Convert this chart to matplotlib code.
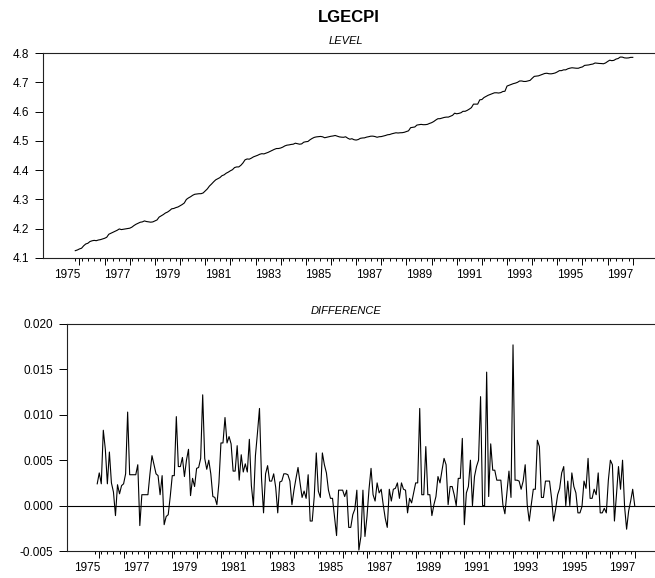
import numpy as np
import matplotlib
matplotlib.use("Agg")
import matplotlib.pyplot as plt

plt.rcParams['font.family'] = ['Liberation Sans', 'DejaVu Sans']
plt.rcParams['axes.unicode_minus'] = False

# -----------------------------------
# Data (monthly)
# -----------------------------------
level_start = 4.125          # first value of LGECPI
last_year, last_month = 1998, 1

diff_values = [
    0.0024, 0.0036, 0.0024, 0.0083, 0.0062, 0.0024, 0.0059, 0.0025, 0.0015, -0.0011,
    0.0023, 0.0013, 0.0022, 0.0024, 0.0035, 0.0103, 0.0034, 0.0034, 0.0034, 0.0034,
    0.0045, -0.0022, 0.0012, 0.0012, 0.0012, 0.0012, 0.0035, 0.0055, 0.0045, 0.0035,
    0.0033, 0.0012, 0.0033, -0.0021, -0.0012, -0.0010, 0.0010, 0.0033, 0.0033, 0.0098,
    0.0043, 0.0043, 0.0053, 0.0032, 0.0050, 0.0062, 0.0011, 0.0030, 0.0021, 0.0041,
    0.0042, 0.0052, 0.0122, 0.0052, 0.0040, 0.0050, 0.0035, 0.0010, 0.0009, 0.0001,
    0.0025, 0.0069, 0.0069, 0.0097, 0.0069, 0.0076, 0.0068, 0.0038, 0.0038, 0.0066,
    0.0028, 0.0056, 0.0037, 0.0046, 0.0037, 0.0073, 0.0022, 0.0000, 0.0055, 0.0080,
    0.0107, 0.0030, -0.0008, 0.0035, 0.0044, 0.0027, 0.0027, 0.0035, 0.0020, -0.0008,
    0.0026, 0.0027, 0.0035, 0.0035, 0.0034, 0.0027, 0.0001, 0.0017, 0.0030, 0.0042,
    0.0025, 0.0009, 0.0016, 0.0008, 0.0034, -0.0017, -0.0017, 0.0010, 0.0058, 0.0016,
    0.0009,
    0.0058, 0.0045, 0.0036, 0.0017, 0.0008, 0.0008, -0.0012, -0.0033, 0.0017, 0.0017,
    0.0017, 0.0010, 0.0017, -0.0024, -0.0024, -0.0010, -0.0004, 0.0017, -0.0049, -0.0034,
    0.0017, -0.0034, -0.0012, 0.0018, 0.0041, 0.0012, 0.0005, 0.0025, 0.0014, 0.0018,
    0.0001, -0.0014, -0.0024, 0.0018, 0.0005, 0.0018, 0.0019, 0.0025, 0.0008, 0.0025,
    0.0018, 0.0017, -0.0008, 0.0008, 0.0003, 0.0014, 0.0025, 0.0025, 0.0107, 0.0012,
    0.0012, 0.0065, 0.0012, 0.0012, -0.0011, 0.0001, 0.0010, 0.0032, 0.0025, 0.0039,
    0.0052, 0.0045, 0.0001, 0.0021, 0.0021, 0.0012, 0.0000, 0.0030, 0.0030, 0.0074,
    -0.0021, 0.0014, 0.0021, 0.0050, 0.0000, 0.0032, 0.0043, 0.0050, 0.0120, 0.0000,
    0.0000, 0.0147, 0.0010, 0.0068, 0.0039, 0.0039, 0.0028, 0.0028, 0.0028, 0.0001,
    -0.0009, 0.0014, 0.0038, 0.0009, 0.0177, 0.0028, 0.0028, 0.0027, 0.0018, 0.0027,
    0.0045, 0.0001, -0.0017, 0.0001, 0.0018, 0.0018, 0.0072, 0.0065, 0.0009, 0.0009,
    0.0027, 0.0027, 0.0027, 0.0008, -0.0017, -0.0004, 0.0012, 0.0019, 0.0036, 0.0043,
    0.0000, 0.0027, 0.0000, 0.0036, 0.0021, 0.0014, -0.0008, -0.0008, -0.0001, 0.0027,
    0.0019, 0.0052, 0.0008, 0.0008, 0.0018, 0.0012, 0.0036, -0.0008, -0.0008, -0.0003,
    -0.0008, 0.0028, 0.0050, 0.0045, -0.0017, 0.0012, 0.0043, 0.0018, 0.0050, -0.0001,
    -0.0026, -0.0006, 0.0005, 0.0018, 0.0000,
]

level_ticks = [4.1, 4.2, 4.3, 4.4, 4.5, 4.6, 4.7, 4.8]
diff_ticks = [-0.005, 0.000, 0.005, 0.010, 0.015, 0.020]
year_labels = list(range(1975, 1998, 2))

# level = running total of the monthly differences
diff = np.array(diff_values)
level = level_start + np.concatenate([[0.0], np.cumsum(diff)])

# monthly time axis in decimal years, ending at the last observation
t_end = last_year + (last_month - 1) / 12
t_level = t_end - np.arange(len(level))[::-1] / 12
t_diff = t_level[1:]

# -----------------------------------
# Figure
# -----------------------------------
W, H = 655, 578
fig = plt.figure(figsize=(W / 100, H / 100), dpi=100)

ax1 = fig.add_axes([43 / W, 1 - 258 / H, 1 - 43 / W, (258 - 53) / H])
ax2 = fig.add_axes([67 / W, 1 - 551 / H, 1 - 67 / W, (551 - 324) / H])

ax1.plot(t_level, level, color='black', lw=0.8)
ax2.plot(t_diff, diff, color='black', lw=0.8)
ax2.axhline(0, color='black', lw=0.8)

ax1.set_ylim(4.1, 4.8)
ax1.set_yticks(level_ticks)
ax1.set_yticklabels([f"{v:.1f}" for v in level_ticks])
ax2.set_ylim(-0.005, 0.020)
ax2.set_yticks(diff_ticks)
ax2.set_yticklabels([f"{v:.3f}" for v in diff_ticks])

ax1.set_xlim(t_level[0] - 15.4 / 12, t_end + 10.6 / 12)
ax2.set_xlim(t_level[0] - 13.9 / 12, t_end + 10.0 / 12)

for ax in (ax1, ax2):
    ax.spines['right'].set_visible(False)
    for s in ('left', 'bottom', 'top'):
        ax.spines[s].set_linewidth(0.8)
        ax.spines[s].set_color('#222222')
    # yearly and quarterly ticks over the data span
    first_q = t_level[0]
    ax.set_xticks(np.arange(1976, last_year + 1))
    ax.set_xticks(np.arange(first_q, t_end + 0.01, 0.25), minor=True)
    ax.set_xticklabels([])
    ax.tick_params(axis='x', which='major', length=4.8, width=0.7, direction='out')
    ax.tick_params(axis='x', which='minor', length=2.4, width=0.7, direction='out')
    ax.tick_params(axis='y', length=6, width=0.7, direction='out', labelsize=8.5, pad=4)
    for yr in year_labels:
        ax.annotate(str(yr), xy=(yr + 0.5, 0), xycoords=('data', 'axes fraction'),
                    xytext=(0, -8), textcoords='offset points',
                    ha='center', va='top', fontsize=8.5)

fig.text(349 / W, 1 - 17 / H, "LGECPI", ha='center', va='center',
         fontsize=12, fontweight='bold')
fig.text(346 / W, 1 - 41 / H, "LEVEL", ha='center', va='center',
         fontsize=8, style='italic')
fig.text(346 / W, 1 - 311 / H, "DIFFERENCE", ha='center', va='center',
         fontsize=8, style='italic')

fig.savefig("out.png", dpi=100)
